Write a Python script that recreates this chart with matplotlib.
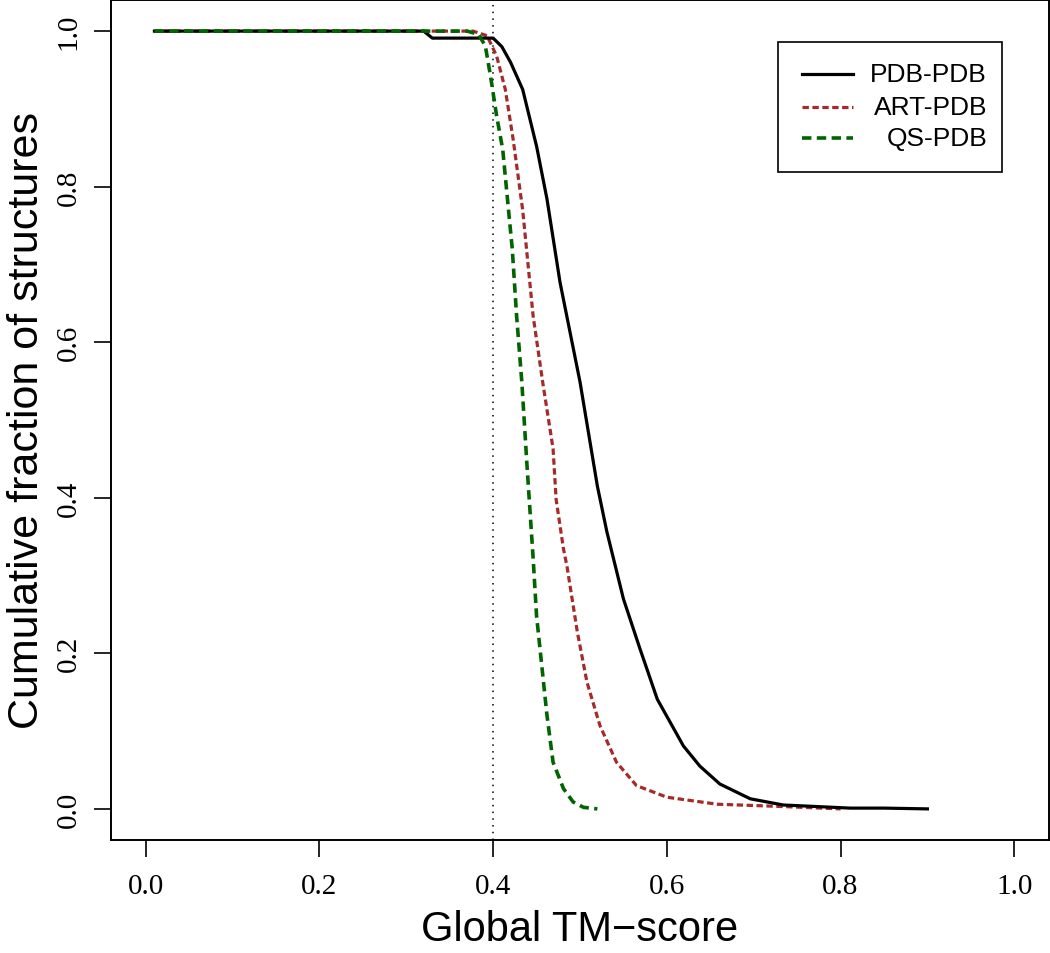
import matplotlib
matplotlib.use("Agg")
import matplotlib.pyplot as plt
from matplotlib.patches import Rectangle
from matplotlib.lines import Line2D

# ---- data ----
pdb_x = [0.01, 0.32, 0.33, 0.40, 0.41, 0.42, 0.434, 0.45, 0.462, 0.477, 0.50, 0.52,
         0.531, 0.55, 0.569, 0.589, 0.619, 0.638, 0.661, 0.696, 0.734, 0.773, 0.811, 0.85, 0.90]
pdb_y = [1.0, 1.0, 0.991, 0.991, 0.980, 0.960, 0.925, 0.852, 0.784, 0.677, 0.549, 0.415,
         0.356, 0.270, 0.206, 0.141, 0.081, 0.055, 0.032, 0.013, 0.005, 0.003, 0.001, 0.001, 0.0]

art_x = [0.01, 0.377, 0.393, 0.404, 0.414, 0.423, 0.434, 0.446, 0.457, 0.469, 0.4725, 0.481,
         0.485, 0.497, 0.508, 0.523, 0.542, 0.565, 0.600, 0.658, 0.734, 0.80]
art_y = [1.0, 1.0, 0.994, 0.968, 0.925, 0.861, 0.770, 0.634, 0.549, 0.463, 0.398, 0.334,
         0.312, 0.227, 0.163, 0.107, 0.060, 0.030, 0.015, 0.006, 0.003, 0.0]

qs_x = [0.01, 0.37, 0.383, 0.391, 0.397, 0.404, 0.411, 0.422, 0.427, 0.433, 0.439, 0.446,
        0.450, 0.456, 0.462, 0.469, 0.481, 0.492, 0.504, 0.52]
qs_y = [1.0, 1.0, 0.996, 0.981, 0.942, 0.891, 0.848, 0.720, 0.634, 0.549, 0.441, 0.323,
        0.248, 0.184, 0.120, 0.060, 0.026, 0.009, 0.002, 0.0]

threshold = 0.4
series_labels = ["PDB-PDB", "ART-PDB", "QS-PDB"]
x_ticks = [0.0, 0.2, 0.4, 0.6, 0.8, 1.0]
y_ticks = [0.0, 0.2, 0.4, 0.6, 0.8, 1.0]
x_label = "Global TM\u2212score"
y_label = "Cumulative fraction of structures"

# ---- figure ----
W, H = 1050, 954
fig = plt.figure(figsize=(W / 100, H / 100), dpi=100)
L, R, T, B = 111, 1049, 1, 841
ax = fig.add_axes([L / W, 1 - B / H, (R - L) / W, (B - T) / H])

red = "#A52A2A"
green = "#006400"
ax.plot(art_x, art_y, color=red, lw=2.3, linestyle=(0, (2.0, 1.1)), zorder=2)
ax.plot(pdb_x, pdb_y, color="black", lw=2.3, solid_joinstyle="round", zorder=3)
ax.plot(qs_x, qs_y, color=green, lw=2.6, linestyle=(0, (2.6, 1.5)), zorder=4)
ax.axvline(threshold, color="black", lw=1.1, linestyle=(0, (1, 3.4)), zorder=1)

ax.set_xlim(-0.04, 1.04)
ax.set_ylim(-0.04, 1.04)
ax.set_xticks(x_ticks)
ax.set_yticks(y_ticks)
ax.set_xticklabels([f"{v:.1f}" for v in x_ticks])
ax.set_yticklabels([f"{v:.1f}" for v in y_ticks])
for s in ax.spines.values():
    s.set_linewidth(1.4)
ax.tick_params(axis="both", length=12, width=1.2, labelsize=21, direction="out")
ax.tick_params(axis="x", pad=12)
ax.tick_params(axis="y", pad=9)
for lab in ax.get_xticklabels() + ax.get_yticklabels():
    lab.set_family("Liberation Serif")
for lab in ax.get_yticklabels():
    lab.set_rotation(90)
    lab.set_va("center")

fig.text((L + R) / 2 / W, 1 - 930 / H, x_label, ha="center", va="center",
         fontsize=30, family="Liberation Sans")
fig.text(27 / W, 1 - (T + B) / 2 / H, y_label, ha="center", va="center",
         rotation=90, fontsize=31, family="Liberation Sans")

# ---- legend (drawn manually, right-aligned text like R) ----
tr = ax.transAxes
bx0, bx1, by0, by1 = 0.711, 0.950, 0.795, 0.950
ax.add_patch(Rectangle((bx0, by0), bx1 - bx0, by1 - by0, transform=tr, fill=False,
                       lw=1.2, edgecolor="black", zorder=5))
rows = [0.912, 0.873, 0.836]
styles = [dict(color="black", lw=2.3, linestyle="-"),
          dict(color=red, lw=2.3, linestyle=(0, (2.0, 1.1))),
          dict(color=green, lw=2.6, linestyle=(0, (2.6, 1.5)))]
for yy, lab, st in zip(rows, series_labels, styles):
    ax.add_line(Line2D([0.737, 0.791], [yy, yy], transform=tr, zorder=6, **st))
    ax.text(0.934, yy, lab, transform=tr, ha="right", va="center", fontsize=19,
            family="Liberation Sans", zorder=6)

fig.savefig("out.png", dpi=100)
